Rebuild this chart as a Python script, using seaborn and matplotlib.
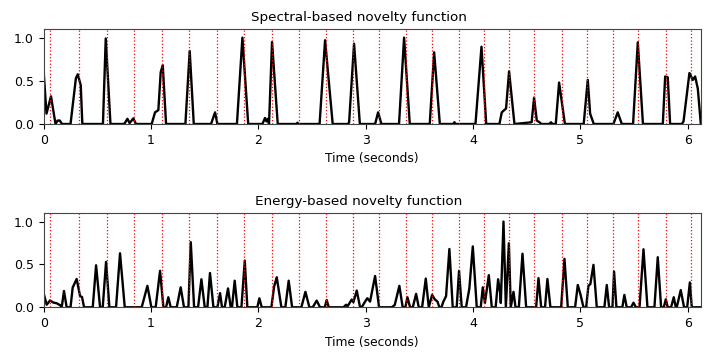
import numpy as np
import pandas as pd
import matplotlib
matplotlib.use("Agg")
import matplotlib.pyplot as plt
import seaborn as sns

# Beat positions (seconds)
beats = [0.062, 0.329, 0.587, 0.844, 1.100, 1.354, 1.615, 1.869, 2.124, 2.379,
         2.627, 2.882, 3.124, 3.373, 3.615, 3.866, 4.099, 4.338, 4.571, 4.826,
         5.062, 5.307, 5.540, 5.798, 6.031]

# Spectral-based novelty function (knots)
spec_t = [0.0, 0.026, 0.068, 0.11, 0.13, 0.15, 0.17,
          0.25, 0.30, 0.317, 0.345, 0.36,
          0.552, 0.578, 0.622,
          0.75, 0.78, 0.80, 0.835, 0.86,
          1.006, 1.037, 1.068, 1.09, 1.109, 1.14,
          1.32, 1.36, 1.398,
          1.559, 1.596, 1.618,
          1.80, 1.851, 1.905,
          2.037, 2.062, 2.075, 2.088, 2.099, 2.127, 2.18,
          2.355, 2.364, 2.373,
          2.57, 2.621, 2.692,
          2.835, 2.845, 2.891, 2.945,
          3.087, 3.115, 3.146,
          3.31, 3.357, 3.41,
          3.596, 3.637, 3.69,
          3.815, 3.826, 3.837,
          4.022, 4.078, 4.122,
          4.245, 4.267, 4.307, 4.335, 4.385,
          4.545, 4.568, 4.593, 4.624, 4.632,
          4.71, 4.725, 4.74,
          4.77, 4.801, 4.855,
          5.03, 5.068, 5.09, 5.124,
          5.307, 5.347, 5.385,
          5.49, 5.534, 5.582,
          5.767, 5.789, 5.813, 5.835,
          5.944, 5.96, 6.015, 6.046, 6.068, 6.093, 6.121]
spec_v = [0.6, 0.12, 0.32, 0.0, 0.04, 0.04, 0.0,
          0.0, 0.53, 0.575, 0.45, 0.0,
          0.0, 0.99, 0.0,
          0.0, 0.06, 0.01, 0.065, 0.0,
          0.0, 0.135, 0.16, 0.6, 0.68, 0.0,
          0.0, 0.845, 0.0,
          0.0, 0.135, 0.0,
          0.0, 1.0, 0.0,
          0.0, 0.07, 0.03, 0.06, 0.0, 0.95, 0.0,
          0.0, 0.015, 0.0,
          0.0, 0.97, 0.0,
          0.0, 0.02, 0.93, 0.0,
          0.0, 0.135, 0.0,
          0.0, 1.0, 0.0,
          0.0, 0.83, 0.0,
          0.0, 0.02, 0.0,
          0.0, 0.895, 0.0,
          0.0, 0.135, 0.18, 0.61, 0.0,
          0.02, 0.305, 0.04, 0.015, 0.0,
          0.0, 0.02, 0.0,
          0.0, 0.48, 0.0,
          0.0, 0.51, 0.12, 0.0,
          0.0, 0.135, 0.0,
          0.0, 0.945, 0.0,
          0.0, 0.55, 0.54, 0.0,
          0.0, 0.03, 0.59, 0.51, 0.55, 0.41, 0.0]

# Energy-based novelty function (knots)
ener_t = [0.0, 0.028, 0.059, 0.09, 0.121, 0.152, 0.168,
          0.189, 0.214,
          0.25, 0.27, 0.307, 0.339, 0.357, 0.376,
          0.457, 0.488, 0.525,
          0.55, 0.581, 0.612,
          0.674, 0.711, 0.755,
          0.913, 0.966, 1.003,
          1.043, 1.084, 1.115,
          1.14, 1.161, 1.183,
          1.239, 1.276, 1.307,
          1.348, 1.37, 1.401,
          1.438, 1.469, 1.5,
          1.525, 1.549, 1.581,
          1.618, 1.643, 1.661,
          1.686, 1.717, 1.742,
          1.754, 1.779, 1.804,
          1.842, 1.873, 1.897,
          1.99, 2.009, 2.031,
          2.121, 2.146, 2.171, 2.214,
          2.251, 2.282, 2.314,
          2.40, 2.438, 2.475,
          2.506, 2.543, 2.574,
          2.618, 2.636, 2.655,
          2.792, 2.817, 2.83, 2.869, 2.885, 2.916, 2.947,
          2.962, 3.003, 3.015, 3.04, 3.087, 3.124,
          3.242, 3.27, 3.313, 3.344,
          3.369, 3.388, 3.413,
          3.438, 3.469, 3.494,
          3.525, 3.559, 3.587,
          3.618, 3.643, 3.668, 3.686,
          3.705, 3.723, 3.748, 3.779, 3.81,
          3.847, 3.869, 3.894,
          3.934, 3.965, 3.997, 4.034,
          4.071, 4.09, 4.11, 4.146, 4.174,
          4.21, 4.233, 4.252, 4.258, 4.283, 4.305,
          4.333, 4.351, 4.376, 4.395,
          4.426, 4.46, 4.494,
          4.587, 4.609, 4.634,
          4.67, 4.692, 4.72,
          4.82, 4.851, 4.882,
          4.95, 4.975, 5.0, 5.028,
          5.053, 5.074, 5.092, 5.121, 5.152,
          5.223, 5.245, 5.267,
          5.298, 5.313, 5.335,
          5.39, 5.409, 5.431,
          5.472, 5.494, 5.516,
          5.55, 5.587, 5.624,
          5.689, 5.72, 5.751,
          5.776, 5.795, 5.813,
          5.844, 5.869, 5.888,
          5.897, 5.934, 5.965,
          5.994, 6.019, 6.037, 6.121]
ener_v = [0.16, 0.03, 0.08, 0.055, 0.047, 0.025, 0.0,
          0.19, 0.0,
          0.0, 0.23, 0.33, 0.13, 0.12, 0.0,
          0.0, 0.49, 0.0,
          0.0, 0.53, 0.0,
          0.0, 0.63, 0.0,
          0.0, 0.25, 0.0,
          0.0, 0.425, 0.0,
          0.0, 0.117, 0.0,
          0.0, 0.233, 0.0,
          0.0, 0.76, 0.0,
          0.0, 0.327, 0.0,
          0.0, 0.40, 0.0,
          0.0, 0.165, 0.0,
          0.0, 0.22, 0.0,
          0.0, 0.31, 0.0,
          0.0, 0.545, 0.0,
          0.0, 0.105, 0.0,
          0.0, 0.24, 0.35, 0.0,
          0.0, 0.31, 0.0,
          0.0, 0.18, 0.0,
          0.0, 0.078, 0.0,
          0.0, 0.085, 0.0,
          0.0, 0.03, 0.01, 0.09, 0.06, 0.195, 0.0,
          0.0, 0.085, 0.105, 0.066, 0.365, 0.0,
          0.0, 0.027, 0.25, 0.0,
          0.0, 0.117, 0.0,
          0.0, 0.156, 0.0,
          0.0, 0.335, 0.0,
          0.144, 0.093, 0.066, 0.0,
          0.0, 0.066, 0.13, 0.68, 0.0,
          0.0, 0.425, 0.0,
          0.0, 0.22, 0.71, 0.0,
          0.0, 0.233, 0.05, 0.375, 0.0,
          0.0, 0.327, 0.163, 0.05, 1.0, 0.0,
          0.747, 0.0, 0.18, 0.0,
          0.0, 0.625, 0.0,
          0.0, 0.34, 0.0,
          0.0, 0.33, 0.0,
          0.0, 0.565, 0.0,
          0.0, 0.26, 0.15, 0.0,
          0.0, 0.25, 0.27, 0.495, 0.0,
          0.0, 0.26, 0.0,
          0.0, 0.416, 0.0,
          0.0, 0.144, 0.0,
          0.0, 0.054, 0.0,
          0.0, 0.677, 0.0,
          0.0, 0.584, 0.0,
          0.0, 0.093, 0.0,
          0.0, 0.117, 0.0,
          0.0, 0.2, 0.0,
          0.0, 0.29, 0.0, 0.0]

titles = ["Spectral-based novelty function", "Energy-based novelty function"]
xticks = [0, 1, 2, 3, 4, 5, 6]
yticks = [0.0, 0.5, 1.0]

assert len(spec_t) == len(spec_v), (len(spec_t), len(spec_v))
assert len(ener_t) == len(ener_v), (len(ener_t), len(ener_v))

fig = plt.figure(figsize=(7.21, 3.61), dpi=100)
ax1 = fig.add_axes([0.0606, 0.6565, 0.9114, 0.2632])
ax2 = fig.add_axes([0.0606, 0.1488, 0.9114, 0.2612])

for ax, t, v, title in [(ax1, spec_t, spec_v, titles[0]), (ax2, ener_t, ener_v, titles[1])]:
    df = pd.DataFrame({"t": t, "v": v})
    sns.lineplot(data=df, x="t", y="v", ax=ax, color="k", lw=1.7,
                 estimator=None, sort=False)
    for b in beats:
        ax.axvline(b, color="r", ls=":", lw=0.9)
    ax.set_xlim(0, 6.121)
    ax.set_ylim(0, 1.1)
    ax.set_xticks(xticks)
    ax.set_xticklabels([str(x) for x in xticks])
    ax.set_yticks(yticks)
    ax.set_yticklabels([f"{y:.1f}" for y in yticks])
    ax.tick_params(labelsize=9)
    for s in ax.spines.values():
        s.set_color("#444444")
    ax.set_xlabel("Time (seconds)", fontsize=8.8)
    ax.set_ylabel("")
    ax.set_title(title, fontsize=9.7, x=0.48)

fig.savefig("out.png", dpi=100)
